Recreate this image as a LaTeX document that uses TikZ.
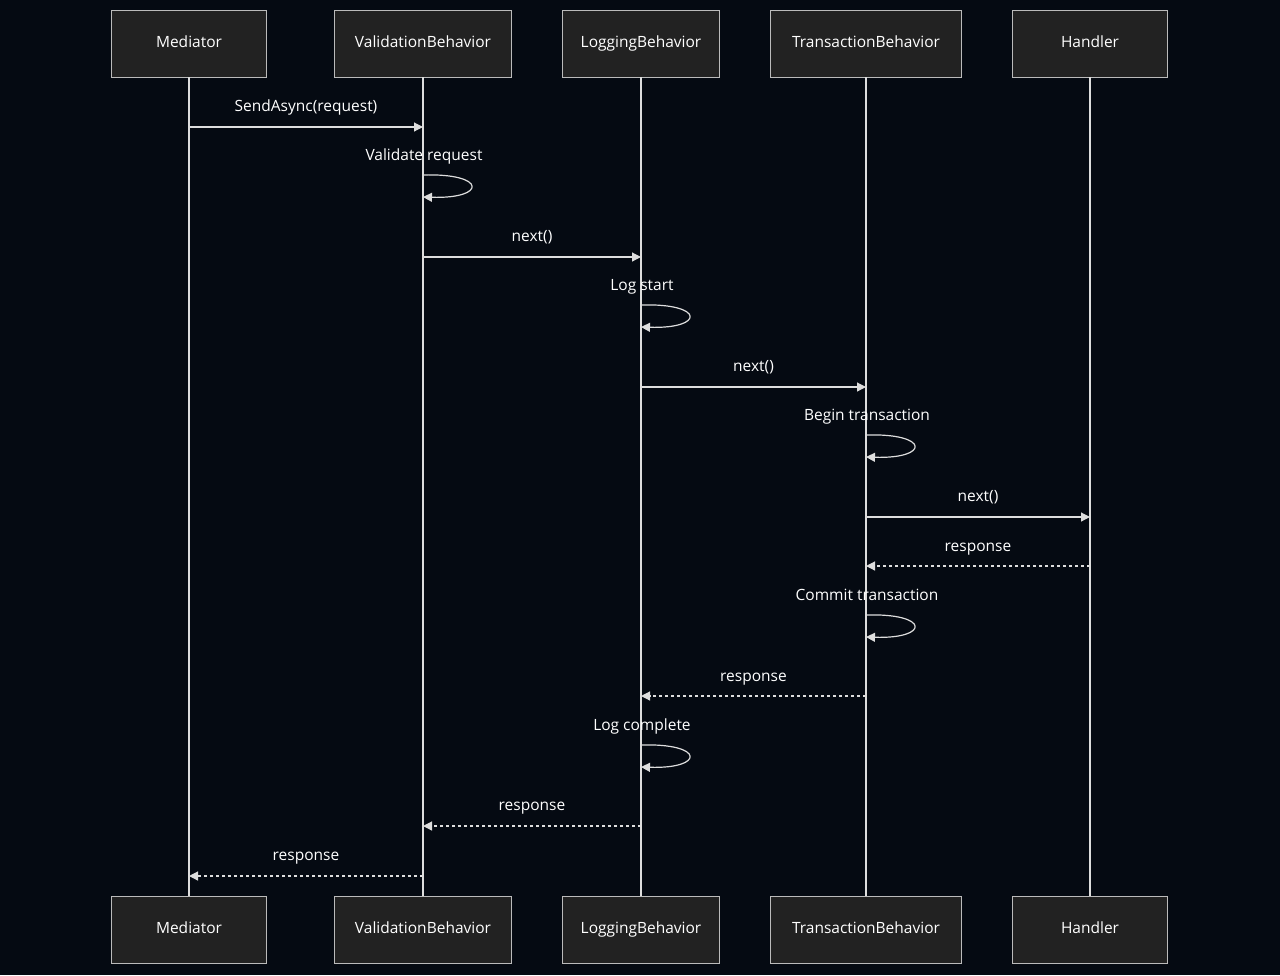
\documentclass[tikz,border=0pt]{standalone}
\usepackage{fontspec}
\setmainfont{Open Sans}
\usetikzlibrary{arrows.meta,calc}
\definecolor{bg}{HTML}{050A12}
\definecolor{boxfill}{HTML}{222222}
\definecolor{boxline}{HTML}{BBBBBB}
\definecolor{ln}{HTML}{DDDDDD}
\begin{document}
\begin{tikzpicture}[x=1pt,y=-1pt,
  actor/.style={draw=boxline,fill=boxfill,line width=0.8pt,text=white,minimum height=67pt,inner sep=0pt,font=\fontsize{15.5}{18}\selectfont,text height=11pt,text depth=4pt},
  life/.style={draw=ln,line width=1.3pt},
  msg/.style={draw=ln,line width=1.2pt,-{Triangle[length=9pt,width=9pt]}},
  ret/.style={msg,dash pattern=on 3pt off 3pt},
  lbl/.style={text=white,font=\fontsize{15.5}{18}\selectfont,inner sep=0pt,text height=11pt,text depth=4pt}]
\fill[bg] (0,0) rectangle (1280,975);
\useasboundingbox (0,0) rectangle (1280,975);
\foreach \n/\t/\x/\w in {m/Mediator/189/155,v/ValidationBehavior/423/177,l/LoggingBehavior/641/157,t/TransactionBehavior/866/191,h/Handler/1090/155}{
  \node[actor,minimum width=\w pt] (\n top) at (\x,43.5) {\t};
  \node[actor,minimum width=\w pt] (\n bot) at (\x,930) {\t};
  \draw[life] (\n top.south) -- (\n bot.north);
}
\newcommand{\mymsg}[6]{%
  \coordinate (a) at (#2top.south |- 0,#4);
  \coordinate (b) at (#3top.south |- 0,#4);
  \draw[#1] (a) -- (b);
  \node[lbl] at ($(a)!0.5!(b)+(0,#6-#4)$) {#5};}
\newcommand{\myself}[4]{%
  \coordinate (s1) at (#1top.south |- 0,#2);
  \coordinate (s2) at (#1top.south |- 0,#2+22);
  \draw[msg] (s1) .. controls ($(s1)+(64,-2)$) and ($(s2)+(64,2)$) .. (s2);
  \node[lbl] at ($(s1)+(1,#4-#2)$) {#3};}
\mymsg{msg}{m}{v}{127}{SendAsync(request)}{108}
\myself{v}{175}{Validate request}{157}
\mymsg{msg}{v}{l}{257}{next()}{238}
\myself{l}{305}{Log start}{287}
\mymsg{msg}{l}{t}{387}{next()}{368}
\myself{t}{435}{Begin transaction}{417}
\mymsg{msg}{t}{h}{517}{next()}{498}
\mymsg{ret}{h}{t}{566}{response}{548}
\myself{t}{615}{Commit transaction}{597}
\mymsg{ret}{t}{l}{696}{response}{678}
\myself{l}{745}{Log complete}{727}
\mymsg{ret}{l}{v}{826}{response}{807}
\mymsg{ret}{v}{m}{876}{response}{857}
\end{tikzpicture}
\end{document}
